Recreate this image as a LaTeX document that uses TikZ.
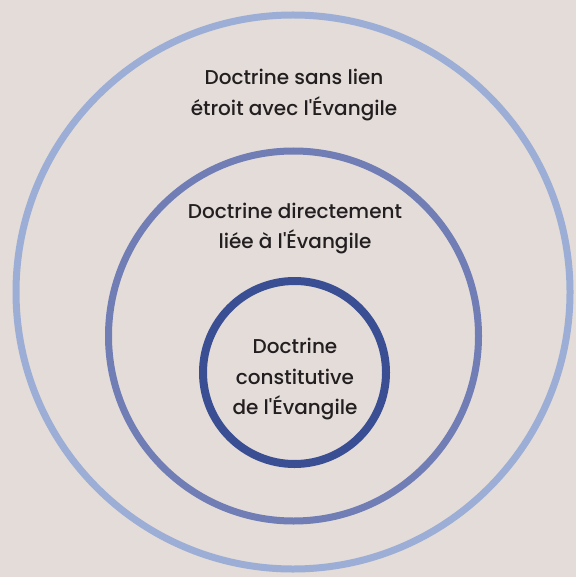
\documentclass[tikz,border=0pt]{standalone}
\usepackage{fontspec}
\setmainfont{Poppins}[UprightFont=* Medium, Ligatures=TeXOff]
\usepackage{xcolor}
\usepackage{tikz}
\usetikzlibrary{positioning}

\definecolor{bgbeige}{HTML}{E3DCD9}
\definecolor{ringlight}{HTML}{9CAED6}
\definecolor{ringmid}{HTML}{717DB5}
\definecolor{ringdark}{HTML}{3A4F93}
\definecolor{labeltext}{HTML}{231F20}

\begin{document}
\begin{tikzpicture}[x=1pt, y=-1pt,
    ring/.style={draw, circle, inner sep=0pt, outer sep=0pt},
    lbl/.style={align=center, text=labeltext, inner sep=0pt,
        font=\fontsize{20}{30.5}\selectfont}]
\fill[bgbeige] (0,0) rectangle (576,577);
\useasboundingbox (0,0) rectangle (576,577);

\node[ring, ringlight, line width=7pt, minimum size=554pt] (outer) at (293,292) {};
\node[ring, ringmid, line width=7pt, minimum size=370pt] (middle) at (293.5,336) {};
\node[ring, ringdark, line width=8pt, minimum size=183pt] (inner) at (294.5,372.5) {};

\node[lbl] (outer_lbl) at (294,95) {Doctrine sans lien\\étroit avec l'Évangile};
\node[lbl] (middle_lbl) at (295,228.5) {Doctrine directement\\liée à l'Évangile};
\node[lbl] (inner_lbl) at (295,379.5) {Doctrine\\constitutive\\de l'Évangile};

\end{tikzpicture}
\end{document}
